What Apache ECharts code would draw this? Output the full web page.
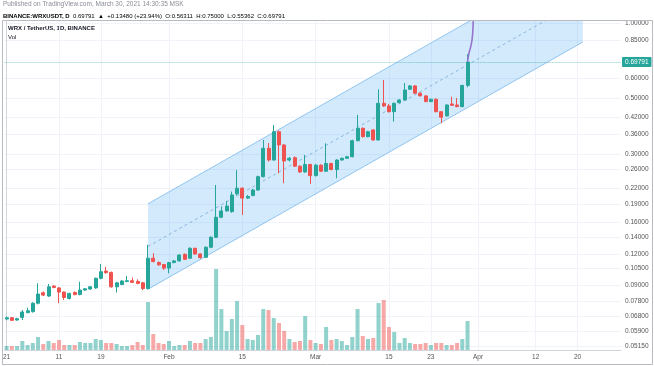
<!DOCTYPE html>
<html><head><meta charset="utf-8">
<script src="https://cdn.jsdelivr.net/npm/echarts@6/dist/echarts.min.js"></script>
<style>html,body{margin:0;padding:0;background:#fff}#c{width:654px;height:366px}</style>
</head><body><div id="c"></div>
<script>
// ---- data ----
const dates = [
'2021-01-01','2021-01-02','2021-01-03','2021-01-04','2021-01-05','2021-01-06','2021-01-07','2021-01-08','2021-01-09','2021-01-10',
'2021-01-11','2021-01-12','2021-01-13','2021-01-14','2021-01-15','2021-01-16','2021-01-17','2021-01-18','2021-01-19','2021-01-20',
'2021-01-21','2021-01-22','2021-01-23','2021-01-24','2021-01-25','2021-01-26','2021-01-27','2021-01-28','2021-01-29','2021-01-30',
'2021-01-31','2021-02-01','2021-02-02','2021-02-03','2021-02-04','2021-02-05','2021-02-06','2021-02-07','2021-02-08','2021-02-09',
'2021-02-10','2021-02-11','2021-02-12','2021-02-13','2021-02-14','2021-02-15','2021-02-16','2021-02-17','2021-02-18','2021-02-19',
'2021-02-20','2021-02-21','2021-02-22','2021-02-23','2021-02-24','2021-02-25','2021-02-26','2021-02-27','2021-02-28','2021-03-01',
'2021-03-02','2021-03-03','2021-03-04','2021-03-05','2021-03-06','2021-03-07','2021-03-08','2021-03-09','2021-03-10','2021-03-11',
'2021-03-12','2021-03-13','2021-03-14','2021-03-15','2021-03-16','2021-03-17','2021-03-18','2021-03-19','2021-03-20','2021-03-21',
'2021-03-22','2021-03-23','2021-03-24','2021-03-25','2021-03-26','2021-03-27','2021-03-28','2021-03-29','2021-03-30'];
const openP = [
0.0660,0.0668,0.0654,0.0670,0.0700,0.0706,0.0763,0.0840,0.0815,0.0893,
0.0878,0.0845,0.0797,0.0842,0.0826,0.0861,0.0869,0.0878,0.0959,0.1025,
0.1012,0.0887,0.0906,0.0932,0.0938,0.0932,0.0920,0.0873,0.1153,0.1108,
0.1088,0.1053,0.1108,0.1125,0.1195,0.1153,0.1263,0.1199,0.1163,0.1275,
0.1397,0.1679,0.1779,0.1767,0.2082,0.2193,0.2002,0.2051,0.2156,0.2437,
0.3162,0.2839,0.3682,0.3259,0.2839,0.2900,0.2683,0.2545,0.2725,0.2460,
0.2709,0.2562,0.2750,0.2602,0.2839,0.2884,0.2926,0.3390,0.3798,0.3517,
0.3740,0.3412,0.4778,0.4662,0.4424,0.4804,0.4925,0.5437,0.5604,0.5243,
0.5114,0.4852,0.4960,0.4424,0.4256,0.4748,0.4705,0.4632,0.56311];
const closeP = [
0.0668,0.0652,0.0662,0.0704,0.0712,0.0763,0.0830,0.0822,0.0887,0.0882,
0.0845,0.0804,0.0835,0.0826,0.0861,0.0871,0.0887,0.0959,0.1019,0.1010,
0.0887,0.0920,0.0935,0.0938,0.0924,0.0915,0.0873,0.1153,0.1118,0.1085,
0.1053,0.1108,0.1125,0.1187,0.1141,0.1263,0.1199,0.1159,0.1275,0.1397,
0.1679,0.1779,0.1860,0.2060,0.2193,0.2002,0.2031,0.2156,0.2437,0.3162,
0.2839,0.3682,0.3259,0.2813,0.2884,0.2683,0.2545,0.2725,0.2460,0.2709,
0.2562,0.2750,0.2602,0.2839,0.2884,0.2926,0.3390,0.3798,0.3517,0.3682,
0.3412,0.4778,0.4662,0.4424,0.4778,0.4925,0.5398,0.5604,0.5243,0.5114,
0.4852,0.4960,0.4424,0.4203,0.4705,0.4688,0.4632,0.56311,0.69791];
const lowP = [
0.0652,0.0648,0.0650,0.0654,0.0695,0.0700,0.0755,0.0815,0.0808,0.0875,
0.0763,0.0786,0.0790,0.0820,0.0820,0.0855,0.0862,0.0872,0.0950,0.1000,
0.0880,0.0842,0.0900,0.0925,0.0918,0.0908,0.0861,0.0865,0.1110,0.1075,
0.1035,0.1004,0.1100,0.1118,0.1135,0.1145,0.1190,0.1150,0.1155,0.1265,
0.1390,0.1665,0.1770,0.1750,0.2050,0.1715,0.1985,0.2035,0.2140,0.2420,
0.2800,0.2820,0.2513,0.2294,0.2800,0.2660,0.2520,0.2525,0.2279,0.2440,
0.2545,0.2545,0.2585,0.2401,0.2820,0.2865,0.2910,0.3370,0.3490,0.3495,
0.3390,0.3395,0.4620,0.4390,0.4036,0.4780,0.4900,0.5410,0.5210,0.5090,
0.4830,0.4830,0.4400,0.3980,0.4230,0.4660,0.4610,0.4610,0.55362];
const highP = [
0.0675,0.0672,0.0668,0.0717,0.0732,0.0770,0.0916,0.0850,0.0910,0.0900,
0.0885,0.0850,0.0840,0.0850,0.0929,0.0878,0.0893,0.0965,0.1094,0.1065,
0.1020,0.0928,0.0945,0.0980,0.0965,0.0950,0.0928,0.1304,0.1208,0.1120,
0.1095,0.1115,0.1135,0.1195,0.1205,0.1275,0.1270,0.1205,0.1285,0.1410,
0.2258,0.1854,0.1950,0.2125,0.2590,0.2210,0.2060,0.2175,0.2460,0.3412,
0.3318,0.3915,0.3720,0.3290,0.2920,0.2935,0.2700,0.2975,0.2745,0.2740,
0.2730,0.3309,0.2770,0.2860,0.2905,0.2950,0.3420,0.4292,0.3830,0.3710,
0.3770,0.5433,0.5917,0.4750,0.4810,0.4960,0.5755,0.5650,0.5640,0.5270,
0.5140,0.4990,0.4990,0.4440,0.4730,0.5075,0.5014,0.5660,0.75000];
const volumeM = [
4,4,4,9,5,7,13,6,9,7,
10,5,5,5,8,7,7,11,10,7,
7,6,4,4,5,8,5,48,16,7,
6,9,4,5,5,9,7,7,11,13,
81,41,19,31,49,25,11,10,15,41,
40,32,27,19,11,8,9,34,10,7,
6,23,10,11,9,5,13,41,14,11,
12,47,50,23,18,7,12,7,6,6,
7,5,7,7,5,5,7,11,29];
const xTickDates  = ['2021-01-01','2021-01-11','2021-01-19','2021-02-01','2021-02-15','2021-03-01','2021-03-15','2021-03-23','2021-04-01','2021-04-12','2021-04-20'];
const xTickLabels = ['21','11','19','Feb','15','Mar','15','23','Apr','12','20'];
const priceTicks = [1.0,0.85,0.6,0.5,0.42,0.36,0.3,0.26,0.22,0.19,0.16,0.14,0.12,0.105,0.09,0.078,0.068,0.059,0.0515];
const lastPrice = 0.69791;
// parallel channel drawing (start/end date, lower and upper prices)
const chanDates = ['2021-01-28','2021-04-21'];
const chanLower = [0.0868, 0.838];
const chanUpper = [0.190, 1.834];
// purple path drawing (fractional day offsets from last bar date, prices)
const pathOffsets = [0.0, 0.3, 0.65, 0.9, 1.05, 1.15];
const pathPrices  = [0.698, 0.76, 0.81, 0.87, 0.97, 1.1];

// ---- build ----
const T0 = Date.parse('2021-01-01');
const dayIdx = s => (Date.parse(s) - T0) / 86400000;
const UP = '#26a69a', DOWN = '#ef5350';
const candles = dates.map((d,i) => [dayIdx(d), openP[i], closeP[i], lowP[i], highP[i]]);
const vols = dates.map((d,i) => ({value:[dayIdx(d), volumeM[i]],
  itemStyle:{color: closeP[i] >= openP[i] ? 'rgba(38,166,154,0.5)' : 'rgba(239,83,80,0.5)'}}));
const xTicks = xTickDates.map(dayIdx);
const c0 = dayIdx(chanDates[0]), c1 = dayIdx(chanDates[1]);
const lastDay = dayIdx(dates[dates.length-1]);
const pathData = pathOffsets.map((o,i) => [lastDay + o, pathPrices[i]]);
const FONT = 'Liberation Sans';

const chart = echarts.init(document.getElementById('c'), null, {renderer:'canvas'});
chart.setOption({
  animation:false,
  backgroundColor:'#ffffff',
  grid:{left:3, right:33, top:21, bottom:16, show:false},
  xAxis:{type:'value', min:-0.43, max:117.3,
    axisLine:{show:true, lineStyle:{color:'#d1d4dc'}},
    axisTick:{show:false, customValues:xTicks},
    axisLabel:{customValues:xTicks, fontSize:6.5, fontFamily:FONT, color:'#555', margin:4,
      formatter:(v)=>{const k=xTicks.indexOf(v); return k>=0?xTickLabels[k]:'';}},
    splitLine:{show:true, lineStyle:{color:'#f0f3fa', width:1}}
  },
  yAxis:[{type:'log', logBase:10, min:0.04967, max:1.0166, position:'right',
    axisLine:{show:true, lineStyle:{color:'#d1d4dc'}},
    axisTick:{show:false, customValues:priceTicks},
    axisLabel:{customValues:priceTicks, fontSize:6.5, fontFamily:FONT, color:'#555', margin:4,
      formatter:(v)=>Number(v).toFixed(5)},
    splitLine:{show:true, lineStyle:{color:'#f0f3fa', width:1}}
  },{type:'value', min:0, max:Math.max(...volumeM)/0.246, show:false, splitLine:{show:false}}],
  series:[
    {type:'bar', yAxisIndex:1, data:vols, barWidth:4, z:1, silent:true},
    {type:'custom', clip:true, z:2, silent:true, data:[[c0, chanLower[0]]],
      renderItem:(params, api)=>{
        const l0=api.coord([c0,chanLower[0]]), l1=api.coord([c1,chanLower[1]]);
        const u0=api.coord([c0,chanUpper[0]]), u1=api.coord([c1,chanUpper[1]]);
        const m0=api.coord([c0,Math.sqrt(chanLower[0]*chanUpper[0])]);
        const m1=api.coord([c1,Math.sqrt(chanLower[1]*chanUpper[1])]);
        return {type:'group', children:[
          {type:'polygon', shape:{points:[u0,u1,l1,l0]}, style:{fill:'rgba(33,150,243,0.2)', stroke:null}},
          {type:'line', shape:{x1:u0[0],y1:u0[1],x2:u1[0],y2:u1[1]}, style:{stroke:'#90c4f0', lineWidth:1}},
          {type:'line', shape:{x1:l0[0],y1:l0[1],x2:l1[0],y2:l1[1]}, style:{stroke:'#90c4f0', lineWidth:1}},
          {type:'line', shape:{x1:m0[0],y1:m0[1],x2:m1[0],y2:m1[1]}, style:{stroke:'#8ab6dc', lineWidth:1, lineDash:[3,3]}}
        ]};
      }},
    {type:'candlestick', data:candles, barWidth:3.5, z:3,
      itemStyle:{color:UP, color0:DOWN, borderColor:UP, borderColor0:DOWN, borderWidth:1},
      markLine:{silent:true, symbol:'none', precision:5,
        lineStyle:{color:'rgba(38,166,154,0.55)', type:'dotted', width:1, opacity:1},
        label:{show:true, position:'end', distance:1, formatter:'0.69791', color:'#ffffff', backgroundColor:UP,
          padding:[2,3,1,3], fontSize:6.5, fontFamily:FONT, borderRadius:1, opacity:1},
        emphasis:{disabled:true},
        data:[{yAxis:lastPrice}]}},
    {type:'line', data:pathData, smooth:true, symbol:'none', clip:true, z:4,
      lineStyle:{color:'#9575cd', width:1.6}}
  ],
  graphic:[
    {type:'rect', shape:{x:2.5, y:20.5, width:650, height:344}, style:{fill:null, stroke:'#b8bbc2', lineWidth:1}, z:100},
    {type:'text', left:3, top:1, style:{text:'Published on TradingView.com, March 30, 2021 14:30:35 MSK', fontSize:6.5, fontFamily:FONT, fill:'#8a8d96'}},
    {type:'text', left:3, top:10, style:{
      text:'{b|BINANCE:WRXUSDT, D} {d|0.69791} {g|▲} {d|+0.13480 (+23.94%)} {d|O:}{g|0.56311} {d|H:}{g|0.75000} {d|L:}{g|0.55362} {d|C:}{g|0.69791}',
      rich:{b:{fontSize:6, fontWeight:'bold', fontFamily:FONT, color:'#131722'},
            d:{fontSize:6, fontFamily:FONT, color:'#131722'},
            g:{fontSize:6, fontFamily:FONT, color:'#26a69a'}}}},
    {type:'text', left:8, top:25, style:{text:'WRX / TetherUS, 1D, BINANCE', fontSize:6, fontWeight:'bold', fontFamily:FONT, fill:'#131722'}},
    {type:'text', left:8, top:34, style:{text:'Vol', fontSize:6, fontFamily:FONT, fill:'#131722'}}
  ]
});
</script></body></html>
